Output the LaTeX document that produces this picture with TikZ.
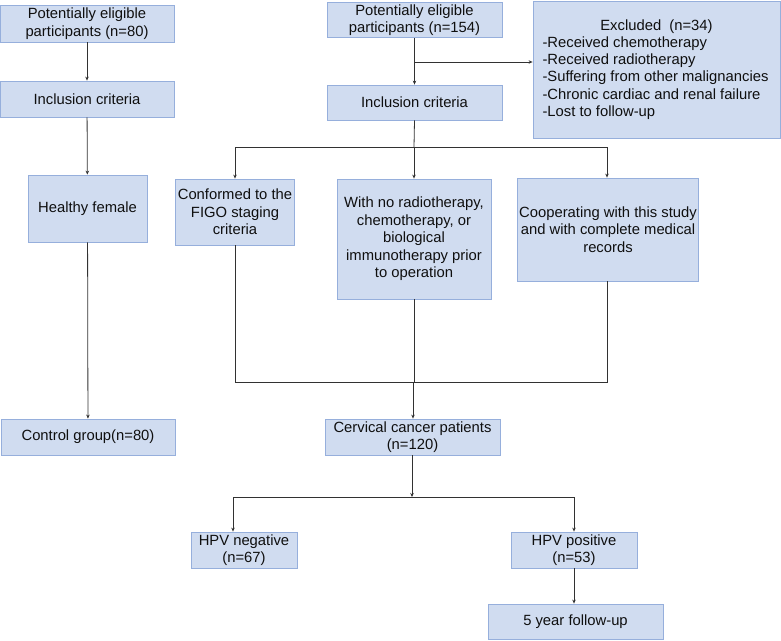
\documentclass[tikz,border=0pt]{standalone}
\usepackage{fontspec}
\setmainfont{Liberation Sans}
\usetikzlibrary{arrows.meta}
\definecolor{boxfill}{RGB}{208,220,240}
\definecolor{boxline}{RGB}{150,175,220}
\definecolor{linec}{RGB}{50,50,50}
\definecolor{txt}{RGB}{15,15,15}
\tikzset{
  box/.style={draw=boxline, fill=boxfill, line width=0.8pt, inner sep=2pt, align=center,
    text=txt, font=\fontsize{14.8}{17.5}\selectfont},
  conn/.style={draw=linec, line width=0.8pt},
  arr/.style={conn, -{Stealth[length=4pt,width=3.5pt]}}
}
\begin{document}
\begin{tikzpicture}[x=1pt,y=-1pt]
\useasboundingbox (0,0) rectangle (781,640);
% left column
\node[box, minimum width=174, minimum height=37] (A) at (87,23.5) {Potentially eligible\\participants (n=80)};
\node[box, minimum width=174, minimum height=36] (B) at (87,99) {Inclusion criteria};
\node[box, minimum width=119, minimum height=67] (C) at (87.5,208.5) {Healthy female};
\node[box, minimum width=174, minimum height=36] (D) at (88,437) {Control group(n=80)};
% right column
\node[box, minimum width=175, minimum height=34] (E) at (414.5,20) {Potentially eligible\\participants (n=154)};
\node[box, minimum width=175, minimum height=35] (F) at (414.5,102.5) {Inclusion criteria};
\node[box, minimum width=247, minimum height=137, align=left, font=\fontsize{14.8}{17.2}\selectfont] (G) at (656.5,69.5)
  {\makebox[228pt][c]{Excluded\ \ (n=34)}\\-Received chemotherapy\\-Received radiotherapy\\-Suffering from other malignancies\\-Chronic cardiac and renal failure\\-Lost to follow-up};
\node[box, minimum width=118, minimum height=66] (H) at (235,212) {Conformed to the\\FIGO staging\\criteria};
\node[box, minimum width=154, minimum height=120] (I) at (414,239) {With no radiotherapy,\\chemotherapy, or\\biological\\immunotherapy prior\\to operation};
\node[box, minimum width=178, minimum height=103] (J) at (608,229.5) {Cooperating with this study\\and with complete medical\\records};
\node[box, minimum width=175, minimum height=36] (K) at (412.5,437) {Cervical cancer patients\\(n=120)};
\node[box, minimum width=106, minimum height=36] (L) at (244,550) {HPV negative\\(n=67)};
\node[box, minimum width=126, minimum height=36] (M) at (574,550) {HPV positive\\(n=53)};
\node[box, minimum width=175, minimum height=35] (N) at (575.5,621.5) {5 year follow-up};
% coordinates
\coordinate (e1) at (414,62);
\coordinate (s1) at (414,147);
\coordinate (sH) at (235,147);
\coordinate (sJ) at (607,147);
\coordinate (m1) at (413,382);
\coordinate (mH) at (235,382);
\coordinate (mJ) at (607,382);
\coordinate (b1) at (412,497);
\coordinate (bL) at (233,497);
\coordinate (bM) at (574,497);
% left arrows
\draw[arr] (A) -- (B);
\draw[arr] (B) -- (C);
\draw[arr] (C) -- (D);
% right arrows
\draw[arr] (E.south) -- (E.south |- F.north);
\draw[arr] (e1) -- (e1 -| G.west);
\draw[conn] (F.south) -- (s1);
\draw[conn] (sH) -- (sJ);
\draw[arr] (sH) -- (sH |- H.north);
\draw[arr] (s1) -- (s1 |- I.north);
\draw[arr] (sJ) -- (sJ |- J.north);
\draw[conn] (H.south) -- (mH) -- (mJ) -- (J.south -| mJ);
\draw[conn] (I.south) -- (I.south |- m1);
\draw[arr] (m1) -- (m1 |- K.north);
\draw[arr] (K.south -| b1) -- (b1);
\draw[conn] (bL) -- (bM);
\draw[arr] (bL) -- (bL |- L.north);
\draw[arr] (bM) -- (bM |- M.north);
\draw[arr] (M.south) -- (M.south |- N.north);
\end{tikzpicture}
\end{document}
